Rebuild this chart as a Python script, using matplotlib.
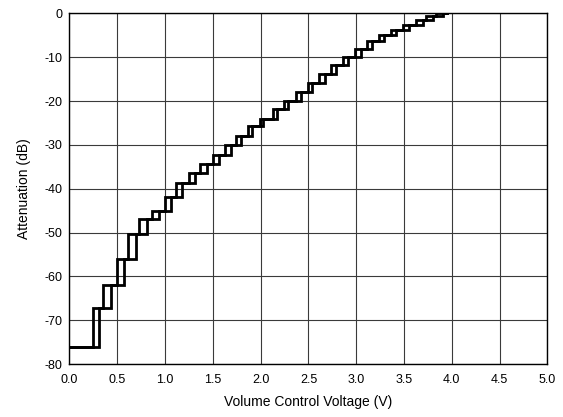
import matplotlib
matplotlib.use('Agg')
from matplotlib import pyplot as plt

# attenuation levels (dB), from the bottom step to 0 dB
levels = [-76, -67.2, -62, -56.1, -50.4, -46.8, -45, -42, -38.8, -36.4,
          -34.3, -32.3, -30, -27.9, -25.8, -24, -21.9, -20, -18, -15.9,
          -13.8, -11.8, -9.9, -8.1, -6.3, -5.0, -3.8, -2.6, -1.5, -0.7, 0]

# switching voltages, falling (lower) and rising (upper) thresholds
v_down = [0.249, 0.354, 0.50, 0.615, 0.73, 0.863, 1.0, 1.114, 1.247, 1.368,
          1.504, 1.63, 1.742, 1.87, 1.996, 2.126, 2.247, 2.369, 2.49, 2.613,
          2.735, 2.858, 2.986, 3.109, 3.24, 3.363, 3.485, 3.625, 3.73, 3.835]
v_up = [0.305, 0.434, 0.573, 0.692, 0.814, 0.936, 1.065, 1.18, 1.313, 1.441,
        1.564, 1.686, 1.791, 1.912, 2.027, 2.167, 2.289, 2.418, 2.54, 2.67,
        2.785, 2.916, 3.046, 3.167, 3.29, 3.418, 3.554, 3.695, 3.80, 3.905]

v_start = 0.0
v_end = 3.95

x_ticks = [0.0, 0.5, 1.0, 1.5, 2.0, 2.5, 3.0, 3.5, 4.0, 4.5, 5.0]
y_ticks = [0, -10, -20, -30, -40, -50, -60, -70, -80]


def main():
    plt.rcParams['font.family'] = ['Liberation Sans', 'DejaVu Sans']
    fig = plt.figure(figsize=(5.63, 4.17), dpi=100)
    ax = fig.add_axes((0.1234, 0.127, 0.849, 0.841))

    for v in (v_down, v_up):
        xs = [v_start] + v + [v_end]
        ys = levels + [levels[-1]]
        ax.step(xs, ys, where='post', color='black', lw=2.0, solid_joinstyle='miter')

    ax.set_xlim(0, 5)
    ax.set_ylim(-80, 0)
    ax.set_xticks(x_ticks)
    ax.set_xticklabels(['%.1f' % t for t in x_ticks])
    ax.set_yticks(y_ticks)
    ax.set_yticklabels(['%d' % t for t in y_ticks])
    ax.grid(True, color='#3a3a3a', lw=0.8)
    ax.tick_params(length=0, labelsize=9)
    ax.tick_params(axis='x', pad=7)
    ax.tick_params(axis='y', pad=5)
    for s in ax.spines.values():
        s.set_linewidth(1.0)

    ax.set_xlabel('Volume Control Voltage (V)', fontsize=10, labelpad=7)
    ax.set_ylabel('Attenuation (dB)', fontsize=10, labelpad=10)

    fig.savefig('out.png', dpi=100)


if __name__ == '__main__':
    main()
